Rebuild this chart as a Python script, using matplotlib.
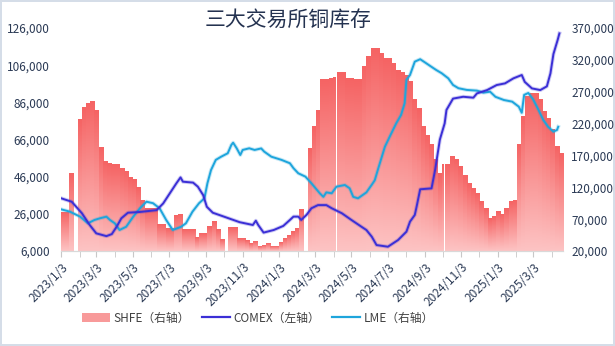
import datetime as dt
import numpy as np
import matplotlib
matplotlib.use("Agg")
import matplotlib.pyplot as plt
import matplotlib.dates as mdates
import matplotlib.patheffects as pe
from matplotlib.patches import Patch
from matplotlib.lines import Line2D
from matplotlib.colors import to_rgb
from matplotlib.ticker import FuncFormatter

plt.rcParams['font.family'] = ['Noto Sans CJK SC', 'DejaVu Sans']

# SHFE weekly copper stock (t), week i starts at start + 7*i
start = dt.date(2023, 1, 3)
shfe = [80, 80, 141, 141, 227, 246, 252, 254, 241, 183,
        160, 157, 155, 155, 150, 144.5, 136, 132.5, 120, 100,
        87, 87, 87, 61, 61, 56, 56, 76.5, 78, 53,
        53, 53, 41.5, 47.8, 47.8, 58, 66, 53, 37.3, 57,
        57, 57, 39, 40, 36, 32, 34.6, 26.8, 29.4, 31,
        27.8, 27.8, 33, 40, 45, 50.3, 55.6, 85.5, 181, 181,
        215, 241, 288.5, 288.5, 290.5, 292.7, 300, 300, 291, 291,
        289.5, 289.5, 310, 325, 338, 338, 330, 322.5, 322.5, 314.7,
        304, 300, 296, 286, 257, 244, 215, 202, 186.5, 163,
        142, 155, 155, 168, 163, 152, 139, 126, 118.4, 110.6,
        97.4, 87, 71.3, 74, 81.7, 78, 87, 97.4, 100, 186.5,
        231, 262, 267.6, 267.6, 257, 238.7, 228, 210, 183.7, 173]
shfe = [v * 1000 for v in shfe]

# exchange closed, no stock reported
holidays = [("2023-01-24", "2023-01-31"), ("2023-10-03", "2023-10-10"),
            ("2024-02-13", "2024-02-20"), ("2024-04-06", "2024-04-08"),
            ("2024-05-04", "2024-05-06"), ("2024-10-04", "2024-10-07"),
            ("2025-02-01", "2025-02-03")]

comex_dates = ["2023-01-03", "2023-01-21", "2023-02-07", "2023-02-20", "2023-03-03",
               "2023-03-20", "2023-03-29", "2023-04-06", "2023-04-14", "2023-04-25",
               "2023-05-15", "2023-06-12", "2023-06-23", "2023-07-04", "2023-07-15",
               "2023-07-22", "2023-07-26", "2023-08-12", "2023-08-20", "2023-08-29",
               "2023-09-04", "2023-09-14", "2023-10-07", "2023-10-29", "2023-11-20",
               "2023-11-25", "2023-11-29", "2023-12-08", "2023-12-25", "2024-01-10",
               "2024-01-21", "2024-01-27", "2024-02-04", "2024-02-09", "2024-02-18",
               "2024-02-26", "2024-03-08", "2024-03-22", "2024-03-31", "2024-04-17",
               "2024-05-03", "2024-05-20", "2024-05-28", "2024-06-06", "2024-06-14",
               "2024-07-03", "2024-07-20", "2024-08-03", "2024-08-09", "2024-08-17",
               "2024-08-20", "2024-08-26", "2024-09-14", "2024-09-20", "2024-09-28",
               "2024-10-06", "2024-10-09", "2024-10-20", "2024-11-06", "2024-11-23",
               "2024-11-29", "2024-12-16", "2025-01-01", "2025-01-15", "2025-01-29",
               "2025-02-12", "2025-02-17", "2025-03-01", "2025-03-15", "2025-03-26",
               "2025-04-01", "2025-04-06", "2025-04-13", "2025-04-16"]
comex = [34.4, 32.5, 26.3, 20, 15.5, 14, 15.1, 19, 23.6, 26.6,
         27, 28, 31.6, 37, 42.4, 45.6, 43.3, 42.8, 40.6, 36,
         29.8, 26.6, 24, 21.5, 20, 22.3, 20, 15.9, 17.3, 19.5,
         22.7, 24.5, 24.5, 22.7, 25.5, 29, 30.7, 30.7, 29, 26.3,
         22.7, 19, 17.3, 13.7, 9.2, 8.3, 11.9, 16.4, 21.8, 25.4,
         29.8, 39.2, 39.7, 49.6, 66, 74.7, 81.9, 88, 89, 88.5,
         90.8, 92.6, 95.3, 96.2, 98.9, 100.7, 97, 93.5, 92.6, 94.6,
         101.6, 112, 119.5, 123.1]
comex = [v * 1000 for v in comex]

lme_dates = ["2023-01-03", "2023-01-18", "2023-02-04", "2023-02-17", "2023-02-28",
             "2023-03-09", "2023-03-20", "2023-03-26", "2023-04-03", "2023-04-11",
             "2023-04-22", "2023-05-04", "2023-05-15", "2023-05-26", "2023-06-06",
             "2023-06-17", "2023-06-28", "2023-07-09", "2023-07-23", "2023-07-31",
             "2023-08-11", "2023-08-22", "2023-08-31", "2023-09-05", "2023-09-11",
             "2023-09-19", "2023-09-28", "2023-10-09", "2023-10-15", "2023-10-18",
             "2023-10-24", "2023-10-30", "2023-11-03", "2023-11-14", "2023-11-23",
             "2023-12-04", "2023-12-09", "2023-12-21", "2024-01-07", "2024-01-21",
             "2024-01-27", "2024-02-04", "2024-02-16", "2024-02-26", "2024-03-11",
             "2024-03-17", "2024-03-22", "2024-03-31", "2024-04-08", "2024-04-22",
             "2024-04-30", "2024-05-06", "2024-05-14", "2024-05-28", "2024-06-06",
             "2024-06-11", "2024-06-17", "2024-06-28", "2024-07-06", "2024-07-17",
             "2024-07-25", "2024-07-31", "2024-08-03", "2024-08-09", "2024-08-17",
             "2024-08-26", "2024-09-03", "2024-09-14", "2024-09-22", "2024-10-01",
             "2024-10-12", "2024-10-20", "2024-10-29", "2024-11-12", "2024-11-29",
             "2024-12-10", "2024-12-21", "2024-12-30", "2025-01-13", "2025-01-27",
             "2025-02-07", "2025-02-12", "2025-02-16", "2025-02-23", "2025-03-03",
             "2025-03-12", "2025-03-20", "2025-03-28", "2025-04-06", "2025-04-12",
             "2025-04-14"]
lme = [85.5, 81.7, 73.9, 63.5, 68.7, 71.3, 73.9, 68.7, 63.5, 53,
       58, 74, 87, 97.4, 95, 87, 68.7, 53, 58, 63.5,
       81.7, 95, 102.7, 126.3, 147, 163, 168, 173.4, 186.4, 190,
       181.2, 170.7, 178.6, 181.2, 178.6, 181, 176, 168, 163, 157.7,
       150, 142, 136.7, 126.3, 110.6, 105, 112, 110.6, 121, 123.6,
       118.4, 105, 102.7, 112, 124, 131, 150, 183.7, 199.4, 220.5,
       233.5, 251.9, 288.5, 296.3, 317.2, 321, 316, 309, 304, 299,
       291, 280.6, 275.5, 272.8, 271.7, 268.5, 270, 262, 257, 254.4,
       246.5, 237, 265, 268, 258, 241.4, 225.7, 215, 207.3, 210,
       215]
lme = [v * 1000 for v in lme]

c_comex = "#3b2fd6"
c_lme = "#1ea5dc"
bar_top = "#f56464"
bar_bot = "#fdc3c3"

fig = plt.figure(figsize=(6.15, 3.46), dpi=100)
fig.patch.set_edgecolor("#d5dde8")
fig.patch.set_linewidth(1.5)
ax = fig.add_axes([61 / 615, 1 - 251 / 346, 502 / 615, 223 / 346])
ax2 = ax.twinx()
ax.set_zorder(ax2.get_zorder() + 1)
ax.patch.set_visible(False)

glow = lambda c: [pe.Stroke(linewidth=2.8, foreground=c, alpha=0.25), pe.Normal()]
ax.plot(np.array(comex_dates, dtype="datetime64[D]"), comex, color=c_comex,
        lw=1.4, path_effects=glow(c_comex), zorder=3)
ax2.plot(np.array(lme_dates, dtype="datetime64[D]"), lme, color=c_lme,
         lw=1.4, path_effects=glow(c_lme), zorder=3)

# SHFE columns, cut around holidays, each filled with a vertical gradient
hol = [(mdates.date2num(dt.date.fromisoformat(a)), mdates.date2num(dt.date.fromisoformat(b)))
       for a, b in holidays]
t0 = mdates.date2num(start)
grad = np.linspace(np.array(to_rgb(bar_bot)), np.array(to_rgb(bar_top)), 64)[:, None, :]
ybot = 20000
for i, v in enumerate(shfe):
    pieces = [(t0 + 7 * i, t0 + 7 * (i + 1))]
    for h0, h1 in hol:
        out = []
        for s, e in pieces:
            if h1 <= s or h0 >= e:
                out.append((s, e))
                continue
            if s < h0:
                out.append((s, h0))
            if h1 < e:
                out.append((h1, e))
        pieces = out
    for s, e in pieces:
        ax2.imshow(grad, extent=(s, e, ybot, v), origin="lower", aspect="auto",
                   interpolation="bilinear", zorder=1)

xmin, xmax = t0, t0 + 7 * len(shfe)
ax.set_xlim(xmin, xmax)
ax.set_ylim(6000, 126000)
ax.set_yticks(range(6000, 126001, 20000))
ax2.set_ylim(20000, 370000)
ax2.set_yticks(range(20000, 370001, 50000))
ax2.set_xlim(xmin, xmax)

fmt = FuncFormatter(lambda v, p: f"{v:,.0f}")
ax.yaxis.set_major_formatter(fmt)
ax2.yaxis.set_major_formatter(fmt)

ax.xaxis.set_major_locator(mdates.MonthLocator(bymonth=[1, 3, 5, 7, 9, 11], bymonthday=3))
ax.xaxis.set_minor_locator(mdates.MonthLocator(bymonthday=3))


def datelabel(v, p):
    d = mdates.num2date(v)
    return f"{d.year}/{d.month}/{d.day}"


ax.xaxis.set_major_formatter(FuncFormatter(datelabel))

lab_c = "#2b3a55"
for a in (ax, ax2):
    for s in ("top", "left", "right"):
        a.spines[s].set_visible(False)
    a.spines["bottom"].set_color("#d9d9d9")
ax.tick_params(axis="y", length=0, pad=8, labelsize=8.5, labelcolor=lab_c)
ax2.tick_params(axis="y", length=0, pad=6, labelsize=8.5, labelcolor=lab_c)
ax.tick_params(axis="x", which="both", length=4, color="#c8c8c8", pad=3,
               labelsize=8.5, labelcolor=lab_c)
for t in ax.get_xticklabels():
    t.set_rotation(45)
    t.set_ha("right")
    t.set_va("top")
    t.set_rotation_mode("anchor")

fig.text(288 / 615, 1 - 20 / 346, "三大交易所铜库存", ha="center", va="center",
         fontsize=15, color="#243250")

handles = [Patch(facecolor="#f89a9a", edgecolor="none"),
           Line2D([], [], color=c_comex, lw=1.6),
           Line2D([], [], color=c_lme, lw=1.6)]
labels = ["SHFE（右轴）", "COMEX（左轴）", "LME（右轴）"]
fig.legend(handles, labels, loc="center", bbox_to_anchor=(258 / 615, 1 - 318 / 346),
           ncol=3, frameon=False, fontsize=8.5, handlelength=2.4, handleheight=0.9,
           handletextpad=0.3, columnspacing=1.0, labelcolor="#404040")

fig.savefig("out.png", dpi=100, edgecolor=fig.get_edgecolor())
